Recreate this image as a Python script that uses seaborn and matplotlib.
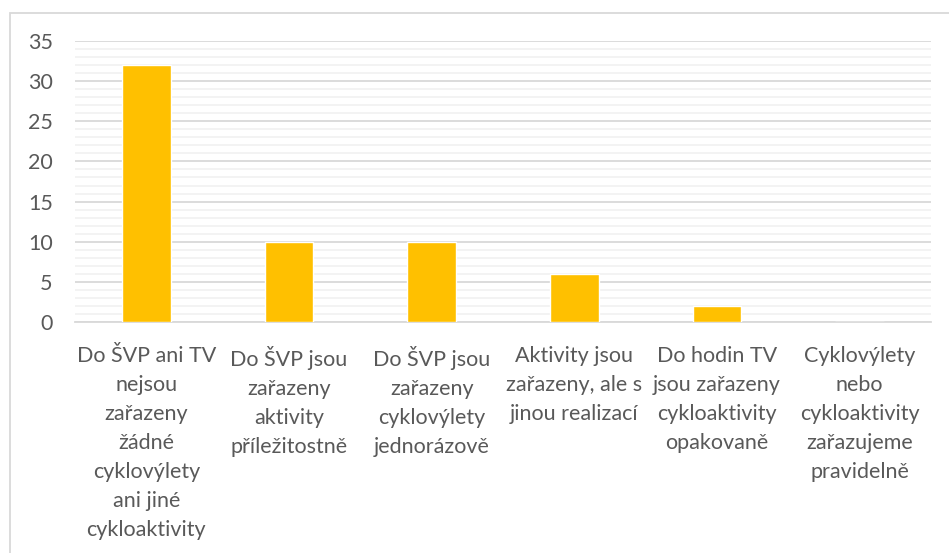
import matplotlib
matplotlib.use('Agg')
import matplotlib.pyplot as plt
import seaborn as sns
import pandas as pd
from matplotlib.patches import Rectangle
from matplotlib.ticker import MultipleLocator

# data
kategorie = [
    'Do ŠVP ani TV\nnejsou\nzařazeny\nžádné\ncyklovýlety\nani jiné\ncykloaktivity',
    'Do ŠVP jsou\nzařazeny\naktivity\npříležitostně',
    'Do ŠVP jsou\nzařazeny\ncyklovýlety\njednorázově',
    'Aktivity jsou\nzařazeny, ale s\njinou realizací',
    'Do hodin TV\njsou zařazeny\ncykloaktivity\nopakovaně',
    'Cyklovýlety\nnebo\ncykloaktivity\nzařazujeme\npravidelně',
]
pocet = [32, 10, 10, 6, 2, 0]

df = pd.DataFrame({'kategorie': kategorie, 'pocet': pocet})

sns.set_style('white')
plt.rcParams['font.family'] = ['Lato', 'DejaVu Sans']

fig = plt.figure(figsize=(9.49, 5.53), dpi=100)
ax = fig.add_axes([75 / 949, 1 - 322 / 553, (931 - 75) / 949, (322 - 41) / 553])

sns.barplot(data=df, x='kategorie', y='pocet', color='#FFC000', width=0.34,
            saturation=1, ax=ax, zorder=3)

ax.set_ylim(0, 35)
ax.yaxis.set_major_locator(MultipleLocator(5))
ax.yaxis.set_minor_locator(MultipleLocator(1))
ax.grid(which='major', axis='y', color='#D9D9D9', linewidth=1.3, zorder=0)
ax.grid(which='minor', axis='y', color='#F2F2F2', linewidth=1.3, zorder=0)
ax.set_axisbelow(True)
for s in ['top', 'right', 'left']:
    ax.spines[s].set_visible(False)
ax.spines['bottom'].set_color('#D9D9D9')
ax.spines['bottom'].set_linewidth(1.3)

ax.set_xlabel('')
ax.set_ylabel('')
ax.tick_params(axis='both', length=0, labelsize=15.5, labelcolor='#595959')
ax.tick_params(axis='x', pad=17)
ax.tick_params(axis='y', pad=16)
for lbl in ax.get_xticklabels():
    lbl.set_linespacing(1.57)

# chart frame
fig.patches.append(Rectangle((10 / 949, -0.1), 1.1, 1 - 13 / 553 + 0.1,
                             transform=fig.transFigure, fill=False,
                             edgecolor='#D9D9D9', linewidth=1.3))

plt.savefig('out.png', dpi=100)
